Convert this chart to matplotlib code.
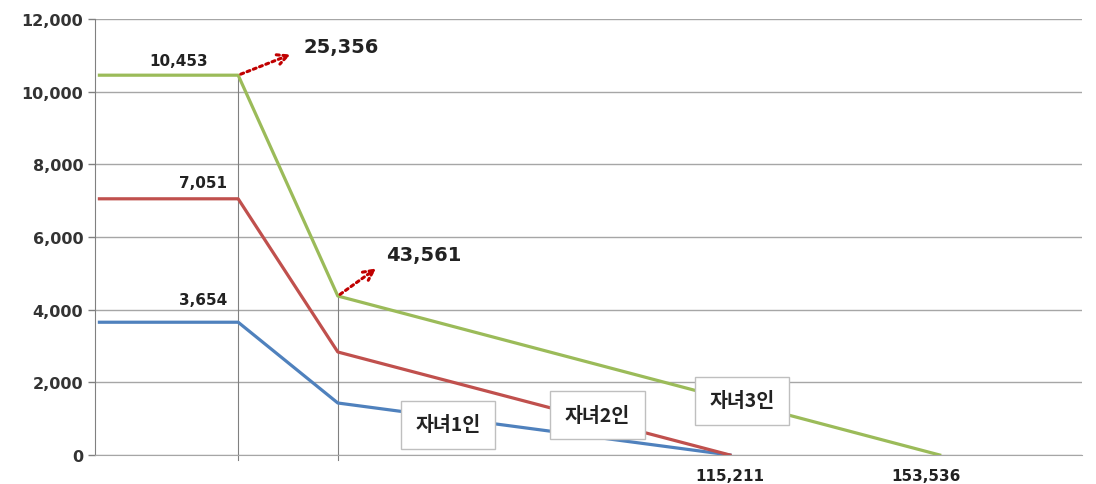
import matplotlib.pyplot as plt

plt.rcParams['font.family'] = ['Noto Sans CJK KR', 'DejaVu Sans']

# income breakpoints (x) and values (y) per series
x_kids1 = [0, 25356, 43561, 115211]
y_kids1 = [3654, 3654, 1431, 0]
x_kids2 = [0, 25356, 43561, 115211]
y_kids2 = [7051, 7051, 2835, 0]
x_kids3 = [0, 25356, 43561, 153536]
y_kids3 = [10453, 10453, 4376, 0]

series_names = ['자녀1인', '자녀2인', '자녀3인']
yticks = [0, 2000, 4000, 6000, 8000, 10000, 12000]

fig = plt.figure(figsize=(10.96, 4.85), dpi=100)
ax = fig.add_axes([0.0867, 0.0598, 0.9003, 0.899])

for y in yticks:
    ax.axhline(y, color='#a6a6a6', lw=1.0, zorder=0)

# thin vertical guide lines at the breakpoints
ax.plot([x_kids3[1], x_kids3[1]], [-150, y_kids3[1]], color='#808080', lw=0.8,
        clip_on=False, zorder=1)
ax.plot([x_kids3[2], x_kids3[2]], [-150, y_kids3[2]], color='#808080', lw=0.8,
        clip_on=False, zorder=1)

ax.plot(x_kids1, y_kids1, color='#4f81bd', lw=2.3, zorder=3)
ax.plot(x_kids2, y_kids2, color='#c0504d', lw=2.3, zorder=3)
ax.plot(x_kids3, y_kids3, color='#9bbb59', lw=2.3, zorder=3)

ax.set_xlim(-800, 179500)
ax.set_ylim(0, 12000)
ax.set_yticks(yticks)
ax.set_yticklabels([f'{v:,}' for v in yticks], fontsize=11.5, fontweight='bold',
                   color='#333333', family='DejaVu Sans')
ax.set_xticks([])
ax.tick_params(axis='y', length=5, color='#808080', width=1)
for s in ['top', 'right']:
    ax.spines[s].set_visible(False)
ax.spines['left'].set_color('#808080')
ax.spines['bottom'].set_color('#a6a6a6')

lab = dict(fontsize=11, fontweight='bold', color='#222222', ha='center',
           va='center', family='DejaVu Sans')
ax.text(14400, 10850, f'{y_kids3[0]:,}', **lab)
ax.text(19000, 7490, f'{y_kids2[0]:,}', **lab)
ax.text(19000, 4270, f'{y_kids1[0]:,}', **lab)
ax.text(x_kids1[3], -570, f'{x_kids1[3]:,}', clip_on=False, **lab)
ax.text(x_kids3[3] - 2500, -570, f'{x_kids3[3]:,}', clip_on=False, **lab)

# dotted arrows pointing to the breakpoint incomes
arr = dict(arrowstyle='->', color='#c00000', lw=2.2, linestyle=(0, (1, 1.2)),
           mutation_scale=18)
ax.annotate('', xy=(35400, 11050), xytext=(x_kids3[1], y_kids3[1]), arrowprops=arr)
ax.annotate('', xy=(51000, 5180), xytext=(x_kids3[2], y_kids3[2]), arrowprops=arr)
big = dict(fontsize=14, fontweight='bold', color='#222222', ha='left',
           va='center', family='DejaVu Sans')
ax.text(37300, 11250, f'{x_kids3[1]:,}', **big)
ax.text(52400, 5530, f'{x_kids3[2]:,}', **big)

box = dict(boxstyle='square,pad=0.75', fc='white', ec='#bfbfbf', lw=1)
txt = dict(fontsize=14, fontweight='bold', color='#222222', ha='center',
           va='center', bbox=box, zorder=5)
ax.text(63700, 830, series_names[0], **txt)
ax.text(91000, 1100, series_names[1], **txt)
ax.text(117400, 1490, series_names[2], **txt)

fig.savefig('out.png', dpi=100)
